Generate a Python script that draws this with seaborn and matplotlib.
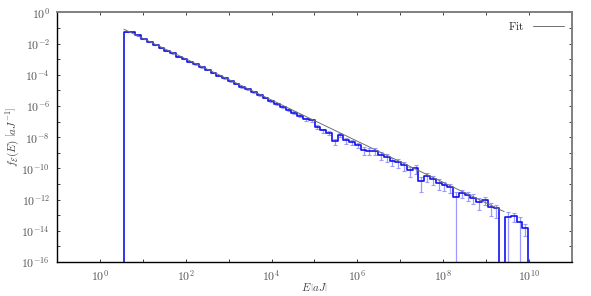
import numpy as np
import matplotlib
matplotlib.use("Agg")
import matplotlib.pyplot as plt
import seaborn as sns

# histogram: 70 log-spaced bins between 10^0.56 and 10^9.98 aJ
bin_lo_exp = 0.56
bin_hi_exp = 9.98
n_bins = 70

# log10 of f_E(E) per bin (None = empty bin)
log_f = [
    -1.27, -1.25, -1.47, -1.72, -1.90, -2.10, -2.27, -2.46, -2.62, -2.83,
    -2.98, -3.17, -3.33, -3.53, -3.68, -3.88, -4.05, -4.22, -4.42, -4.57,
    -4.78, -4.93, -5.12, -5.30, -5.46, -5.66, -5.84, -6.05, -6.25, -6.42,
    -6.62, -6.85, -6.92, -7.32, -7.56, -7.73, -8.25, -7.85, -8.20, -8.30,
    -8.49, -8.81, -8.86, -8.86, -9.13, -9.28, -9.50, -9.60, -9.80, -10.10,
    -9.99, -10.80, -10.48, -10.69, -10.91, -11.06, -11.21, -11.81, -11.55, -11.70,
    -11.87, -12.13, -12.02, -12.45, -12.56, None, -13.09, -13.05, -13.41, -13.80,
]

# relative statistical error per bin
rel_err = [
    0.03, 0.03, 0.03, 0.03, 0.03, 0.04, 0.04, 0.04, 0.04, 0.05,
    0.05, 0.05, 0.05, 0.06, 0.06, 0.06, 0.07, 0.07, 0.08, 0.08,
    0.09, 0.10, 0.10, 0.11, 0.12, 0.13, 0.14, 0.15, 0.16, 0.18,
    0.20, 0.22, 0.24, 0.26, 0.28, 0.30, 0.45, 0.32, 0.40, 0.38,
    0.40, 0.50, 0.45, 0.45, 0.50, 0.50, 0.55, 0.55, 0.60, 0.65,
    0.55, 0.80, 0.60, 0.60, 0.65, 0.60, 0.60, 1.00, 0.55, 0.60,
    0.60, 0.70, 0.55, 0.75, 0.75, 0.0, 1.00, 0.60, 1.00, 0.70,
]

# empty bins on either side of the filled range
empty_lo_exp = 0.04
empty_hi_exp = 11.0

# power-law fit f = A * E^-alpha
fit_amp = 0.46
fit_alpha = 1.32
fit_range_exp = (0.56, 9.42)

FLOOR = 1e-30

edges = np.logspace(bin_lo_exp, bin_hi_exp, n_bins + 1)
centers = np.sqrt(edges[:-1] * edges[1:])
vals = np.array([10.0 ** v if v is not None else 0.0 for v in log_f])
errs = vals * np.array(rel_err)

# step outline, empty bins drawn down to the floor
step_x = np.concatenate([[10 ** empty_lo_exp], edges, [10 ** empty_hi_exp]])
step_y = np.concatenate([[FLOOR], np.where(vals > 0, vals, FLOOR), [FLOOR], [FLOOR]])

fit_x = np.logspace(fit_range_exp[0], fit_range_exp[1], 200)
fit_y = fit_amp * fit_x ** (-fit_alpha)

sns.set_style("ticks")
plt.rcParams["mathtext.fontset"] = "cm"
plt.rcParams["font.family"] = ["DejaVu Serif"]

fig = plt.figure(figsize=(5.91, 2.96), dpi=100)
ax = fig.add_axes([0.0964, 0.115, 0.8714, 0.843])

ax.set_xscale("log")
ax.set_yscale("log")

mask = vals > 0
lower = np.minimum(errs, vals - FLOOR)
ax.errorbar(centers[mask], vals[mask], yerr=[lower[mask], errs[mask]],
            fmt="none", ecolor="#9a9aff", elinewidth=0.9, capsize=1.6,
            capthick=0.8, zorder=2)

sns.lineplot(x=step_x, y=step_y, drawstyle="steps-post", estimator=None,
             sort=False, color="#1010f0", linewidth=1.2, ax=ax, zorder=3)
sns.lineplot(x=fit_x, y=fit_y, estimator=None, sort=False, color="#707070",
             linewidth=0.7, ax=ax, zorder=4, label=r"$\mathrm{Fit}$")

ax.set_xlim(1e-1, 1e11)
ax.set_ylim(1e-16, 1)

ax.xaxis.set_major_locator(matplotlib.ticker.LogLocator(base=10, numticks=20))
ax.yaxis.set_major_locator(matplotlib.ticker.LogLocator(base=10, numticks=20))
ax.xaxis.set_minor_locator(matplotlib.ticker.NullLocator())
ax.yaxis.set_minor_locator(matplotlib.ticker.NullLocator())

def every_other(v, pos):
    e = int(round(np.log10(v)))
    return r"$10^{%d}$" % e if e % 2 == 0 else ""

ax.xaxis.set_major_formatter(matplotlib.ticker.FuncFormatter(every_other))
ax.yaxis.set_major_formatter(matplotlib.ticker.FuncFormatter(every_other))
ax.tick_params(which="both", direction="in", top=True, right=True,
               length=2.5, width=0.6, labelsize=8.5, colors="#222222",
               labelcolor="#555555")
ax.tick_params(axis="x", pad=5)
ax.tick_params(axis="y", pad=5)

for side in ["left", "bottom"]:
    ax.spines[side].set_color("black")
    ax.spines[side].set_linewidth(1.0)
for side in ["top", "right"]:
    ax.spines[side].set_color("#808080")
    ax.spines[side].set_linewidth(1.4)

ax.set_xlabel(r"$E\,\left[aJ\right]$", fontsize=8, color="#444444")
ax.set_ylabel(r"$f_{\mathcal{E}}(E)\ \left[aJ^{-1}\right]$", fontsize=8,
              color="#444444")
ax.xaxis.set_label_coords(0.50, -0.075)
ax.yaxis.set_label_coords(-0.07, 0.5)

leg = ax.legend(loc="upper right", frameon=False, fontsize=8, handlelength=2.8,
                markerfirst=False, borderaxespad=0.3)

fig.savefig("out.png", dpi=100)
